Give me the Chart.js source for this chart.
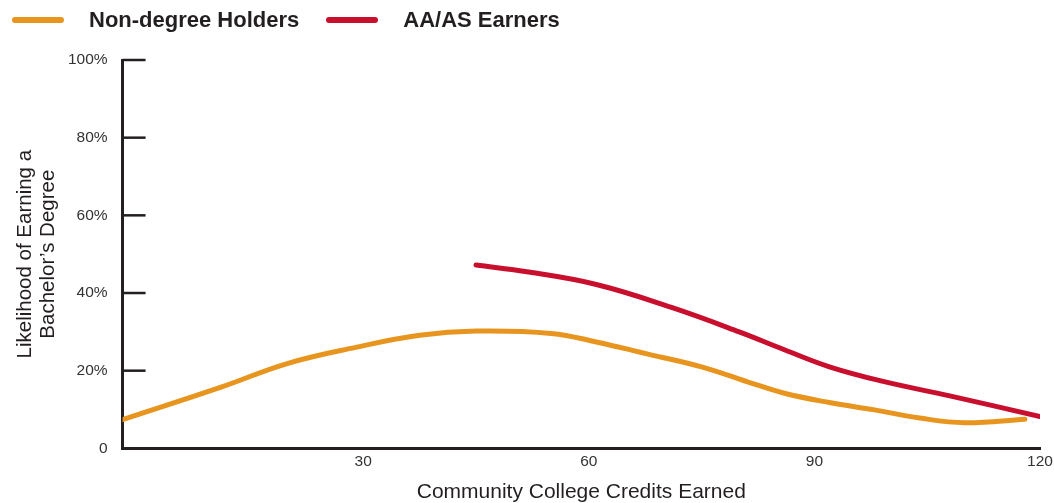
<!DOCTYPE html>
<html>
<head>
<meta charset="utf-8">
<script src="https://cdn.jsdelivr.net/npm/chart.js@4.4.1/dist/chart.umd.min.js"></script>
<style>
  html, body { margin: 0; padding: 0; background: #fff; }
  #wrap { position: relative; width: 1054px; height: 503px; }
  #legend { position: absolute; left: 12px; top: 7px; display: flex; align-items: center;
    font-family: "Liberation Sans", Arial, sans-serif; font-weight: bold; font-size: 22px; color: #231f20; }
  .sw { display: inline-block; width: 52px; height: 6px; border-radius: 3px; margin-right: 25px; }
  .item { display: flex; align-items: center; margin-right: 27px; }
</style>
</head>
<body>
<div id="wrap">
  <canvas id="chart" width="1054" height="503"></canvas>
  <div id="legend"></div>
</div>
<script>
'use strict';

// ── Data ─────────────────────────────────────────────────────────────────────

const seriesNames = ['Non-degree Holders', 'AA/AS Earners'];
const seriesColors = ['#e8951f', '#c8102e'];

const nonDegreeCredits = [-2, 11, 20, 29, 37.5, 45, 55, 61, 68, 75, 81, 86, 92, 98, 104, 110, 118];
const nonDegreeLikelihood = [7.4, 15.7, 21.9, 26, 29.1, 30.2, 29.6, 27.4, 24.2, 21, 17.2, 14.2, 11.8, 9.9, 7.8, 6.6, 7.5];

const aaCredits = [45, 52, 61, 71, 80, 86, 92, 99, 108, 120];
const aaLikelihood = [47.2, 45.4, 42.2, 36.3, 30, 25.4, 21, 17.3, 13.5, 8.2];

const xTicks = [30, 60, 90, 120];
const yTicks = [0, 20, 40, 60, 80, 100];

const toPoints = (xs, ys) => xs.map((x, i) => ({ x, y: ys[i] }));

// ── Legend ───────────────────────────────────────────────────────────────────

const legend = document.getElementById('legend');
seriesNames.forEach((name, i) => {
  const item = document.createElement('div');
  item.className = 'item';
  item.innerHTML = `<span class="sw" style="background:${seriesColors[i]}"></span>${name}`;
  legend.appendChild(item);
});

// ── Tick marks on the inside of the y axis ───────────────────────────────────

const yTickMarks = {
  id: 'yTickMarks',
  afterDraw(chart) {
    const { ctx, scales: { x, y } } = chart;
    ctx.save();
    ctx.strokeStyle = '#231f20';
    ctx.lineWidth = 2.5;
    yTicks.forEach(v => {
      const py = y.getPixelForValue(v);
      ctx.beginPath();
      ctx.moveTo(x.left, py);
      ctx.lineTo(x.left + 23, py);
      ctx.stroke();
    });
    ctx.restore();
  }
};

// ── Chart ────────────────────────────────────────────────────────────────────

const font = "'Liberation Sans', Arial, sans-serif";

new Chart(document.getElementById('chart'), {
  type: 'line',
  data: {
    datasets: [
      {
        label: seriesNames[0],
        data: toPoints(nonDegreeCredits, nonDegreeLikelihood),
        borderColor: seriesColors[0],
        borderWidth: 5,
        pointRadius: 0,
        borderCapStyle: 'round',
        tension: 0.4
      },
      {
        label: seriesNames[1],
        data: toPoints(aaCredits, aaLikelihood),
        borderColor: seriesColors[1],
        borderWidth: 5,
        pointRadius: 0,
        borderCapStyle: 'round',
        tension: 0.4
      }
    ]
  },
  options: {
    responsive: false,
    animation: false,
    layout: { padding: { top: 60, right: 0, left: 14, bottom: 0 } },
    plugins: { legend: { display: false }, tooltip: { enabled: false } },
    scales: {
      x: {
        type: 'linear',
        min: -2,
        max: 120,
        afterBuildTicks: s => { s.ticks = xTicks.map(v => ({ value: v })); },
        afterFit: s => { s.paddingRight = 14; },
        grid: { display: false, drawTicks: false },
        border: { display: true, color: '#231f20', width: 3 },
        ticks: { color: '#333', font: { family: font, size: 15.5 }, padding: 4 },
        title: { display: true, text: 'Community College Credits Earned', color: '#231f20',
                 font: { family: font, size: 21, lineHeight: 1.05 }, padding: { top: 6, bottom: 0 } }
      },
      y: {
        min: 0,
        max: 100,
        afterBuildTicks: s => { s.ticks = yTicks.map(v => ({ value: v })); },
        grid: { display: false, drawTicks: false },
        border: { display: true, color: '#231f20', width: 3 },
        ticks: { color: '#333', font: { family: font, size: 15.5 }, padding: 15,
                 callback: v => v === 0 ? '0' : v + '%' },
        title: { display: true, text: ['Likelihood of Earning a', "Bachelor\u2019s Degree"], color: '#231f20',
                 font: { family: font, size: 20.5, lineHeight: 1.12 }, padding: { top: 0, bottom: -7 } }
      }
    }
  },
  plugins: [yTickMarks]
});
</script>
</body>
</html>
